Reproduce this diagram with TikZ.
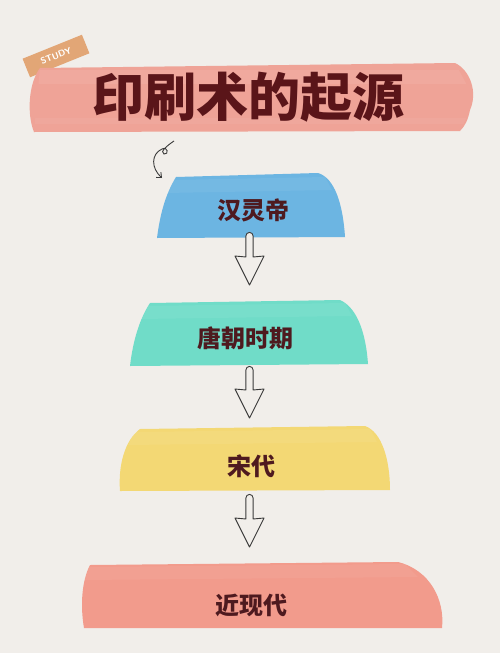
\documentclass[tikz,border=0pt]{standalone}
\usepackage{fontspec}
\usepackage{tikz}
\usetikzlibrary{arrows.meta,calc}
\newfontfamily\cjk{Noto Sans CJK SC}
\definecolor{paper}{HTML}{F1EEEA}
\definecolor{titlepink}{HTML}{EFA397}
\definecolor{tagorange}{HTML}{E2A676}
\definecolor{brushblue}{HTML}{6CB5E2}
\definecolor{brushteal}{HTML}{70DCC8}
\definecolor{brushyellow}{HTML}{F3D874}
\definecolor{brushpink}{HTML}{F29B8C}
\definecolor{ink}{HTML}{4E1A1F}
\definecolor{titleink}{HTML}{5A1519}
\definecolor{pen}{HTML}{3A3A3A}

% hollow down arrow from shaft top #1 to tip #2
\newcommand{\hollowdown}[2]{%
  \draw[pen, line width=0.9pt, line join=round, fill=paper]
    ($(#1)+(-3.6,0)$) arc[start angle=180, end angle=360, radius=3.6]
    -- ($(#2)+(3.6,-28)$) -- ($(#2)+(14.5,-29)$) -- (#2)
    -- ($(#2)+(-14.5,-29)$) -- ($(#2)+(-3.6,-28)$) -- cycle;}

\begin{document}
\begin{tikzpicture}[x=1pt,y=-1pt,
    stage/.style={font={\cjk\bfseries\fontsize{24pt}{26pt}\selectfont}, text=ink, inner sep=0pt},
    tagbox/.style={fill=tagorange, text=white, font={\sffamily\bfseries\fontsize{9pt}{10pt}\selectfont},
      minimum width=64pt, minimum height=20pt, inner sep=0pt}]
\useasboundingbox (0,0) rectangle (500,653);
\fill[paper] (0,0) rectangle (500,653);

% study tag and title stroke
\node[tagbox, rotate=22] (tag) at (56,56) {STUDY};
\fill[titlepink] (40,68) -- (455,63) .. controls (470,70) and (478,92) .. (470,110)
  .. controls (468,120) and (465,126) .. (460,131) -- (34,132)
  .. controls (27,115) and (28,84) .. cycle;
\begin{scope}
  \clip (40,68) -- (455,63) -- (475,100) -- (460,131) -- (34,132) -- cycle;
  \fill[white, opacity=0.07] (0,70) rectangle (500,84);
  \fill[white, opacity=0.05] (0,118) rectangle (500,124);
\end{scope}
\node[font={\cjk\bfseries\fontsize{52pt}{56pt}\selectfont}, text=titleink, inner sep=0pt] (title) at (248,97) {印刷术的起源};

% little curly pointer
\coordinate (curlstart) at (174,141);
\coordinate (curlend) at (162,178);
\draw[pen, line width=0.9pt, -{Straight Barb[length=4pt,width=7pt]}]
  (curlstart) .. controls (168,145) and (159,152) .. (164,154)
  .. controls (169,155) and (168,146) .. (162,149)
  .. controls (151,154) and (151,168) .. (curlend);

% brush strokes
\fill[brushblue] (176,177) -- (318,173) .. controls (335,178) and (343,205) .. (345,237)
  -- (157,238) .. controls (160,215) and (165,195) .. cycle;
\fill[brushteal] (150,303) -- (340,300) .. controls (358,308) and (366,335) .. (368,364)
  -- (130,366) .. controls (133,340) and (140,318) .. cycle;
\fill[brushyellow] (140,429) -- (365,426) .. controls (382,432) and (390,460) .. (390,490)
  -- (120,491) .. controls (118,465) and (125,440) .. cycle;
\fill[brushpink] (90,565) -- (398,562) .. controls (430,570) and (445,600) .. (442,628)
  -- (84,628) .. controls (80,605) and (82,580) .. cycle;
\fill[white, opacity=0.06] (170,180) -- (325,177) -- (332,190) -- (165,193) -- cycle;
\fill[white, opacity=0.06] (145,306) -- (345,303) -- (352,316) -- (140,319) -- cycle;
\fill[white, opacity=0.06] (135,432) -- (370,429) -- (377,442) -- (128,445) -- cycle;
\fill[white, opacity=0.06] (86,567) -- (405,564) -- (418,577) -- (83,580) -- cycle;

% stage labels
\node[stage] (han) at (253,210) {汉灵帝};
\node[stage] (tang) at (245,338) {唐朝时期};
\node[stage] (song) at (251,466) {宋代};
\node[stage] (modern) at (251,605) {近现代};

% hollow arrows between stages
\coordinate (a1) at (249.5,236); \coordinate (b1) at (249.5,285);
\coordinate (a2) at (249.5,370); \coordinate (b2) at (249.5,418);
\coordinate (a3) at (249.5,498); \coordinate (b3) at (249.5,547);
\hollowdown{a1}{b1}
\hollowdown{a2}{b2}
\hollowdown{a3}{b3}
\end{tikzpicture}
\end{document}
